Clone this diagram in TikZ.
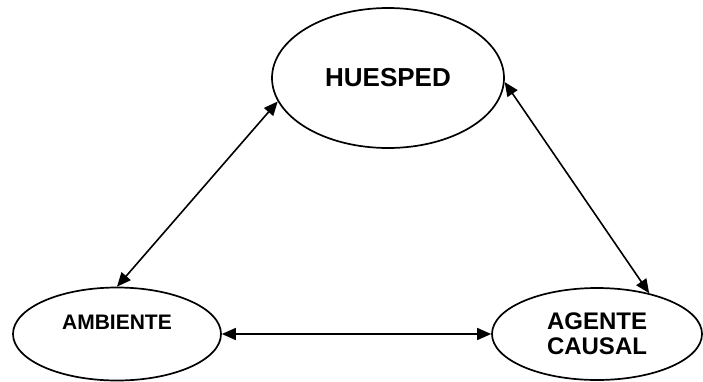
\documentclass[tikz,border=0pt]{standalone}
\usepackage{fontspec}
\setmainfont{Liberation Sans}
\usetikzlibrary{shapes.geometric,arrows.meta}

\begin{document}
\begin{tikzpicture}[x=1pt,y=-1pt,
    factor/.style={draw,ellipse,line width=1.7pt,inner sep=0pt,align=center},
    link/.style={{Triangle[length=14pt,width=12pt]}-{Triangle[length=14pt,width=12pt]},line width=1.6pt}]
    \useasboundingbox (0,0) rectangle (703,381);
    \node[factor,minimum width=232,minimum height=140,font=\bfseries\fontsize{26}{30}\selectfont] (huesped) at (388,78) {HUESPED};
    \node[factor,minimum width=208,minimum height=93,font=\bfseries\fontsize{21}{24}\selectfont] (ambiente) at (117,334) {AMBIENTE\\ \mbox{}};
    \node[factor,minimum width=210,minimum height=92,font=\bfseries\fontsize{24}{25}\selectfont] (agente) at (597,334) {AGENTE\\CAUSAL};

    \draw[link] (ambiente.north) -- (huesped.192);
    \draw[link] (huesped.-2) -- (agente.38);
    \draw[link] (ambiente.east) -- (agente.west);
\end{tikzpicture}
\end{document}
